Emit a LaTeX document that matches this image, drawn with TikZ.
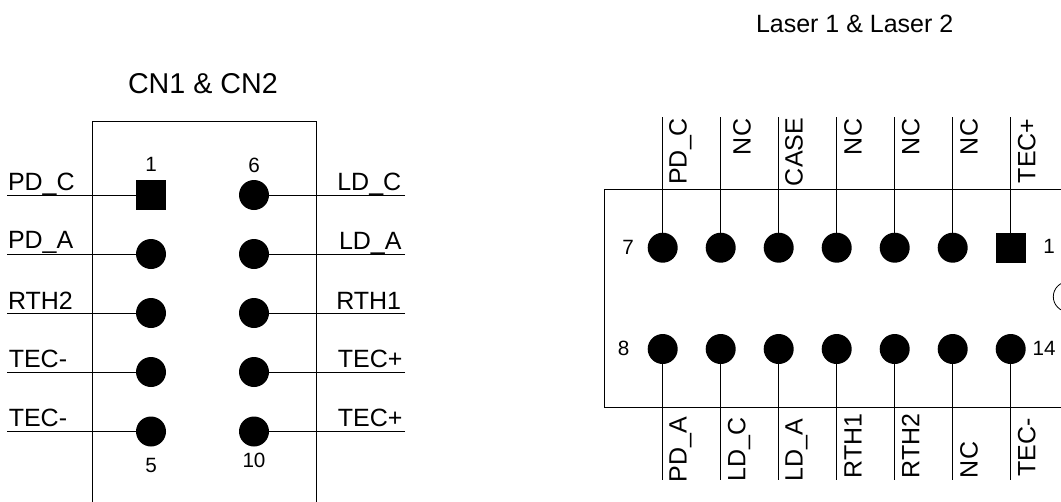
\documentclass[tikz,border=0pt]{standalone}
\usepackage{fontspec}
\setmainfont{Liberation Sans}
\tikzset{
  x=0.75pt,y=-0.75pt,
  wire/.style={draw=black,line width=0.75pt},
  casing/.style={draw=black,line width=0.75pt},
  roundpin/.style={circle,fill=black,draw=none,minimum size=22.5pt,inner sep=0pt,outer sep=0pt},
  squarepin/.style={rectangle,fill=black,draw=none,minimum size=22.5pt,inner sep=0pt,outer sep=0pt},
  sig/.style={font=\fontsize{18.75}{18.75}\selectfont,inner sep=0pt,outer sep=0pt,anchor=base west},
  vsig/.style={sig,rotate=90},
  num/.style={font=\fontsize{15.5}{15.5}\selectfont,inner sep=0pt,outer sep=0pt,anchor=base},
}
\begin{document}
\begin{tikzpicture}
\useasboundingbox (0,0) rectangle (1061,501);
\clip (0,0) rectangle (1061,501);
% titles
\node[sig,font=\fontsize{21.5}{21.5}\selectfont] (t1) at (128,93.7) {CN1 \& CN2};
\node[sig] (t2) at (756,32) {Laser 1 \& Laser 2};
% CN casing
\draw[casing] (92.5,510) -- (92.5,121) -- (316,121) -- (316,510);
% CN pins
\node[squarepin] (c1) at (151,195) {};
\node[roundpin] (c2) at (151,254) {};
\node[roundpin] (c3) at (151,313) {};
\node[roundpin] (c4) at (151,372) {};
\node[roundpin] (c5) at (151,431.5) {};
\node[roundpin] (c6) at (254,195) {};
\node[roundpin] (c7) at (254,254) {};
\node[roundpin] (c8) at (254,313) {};
\node[roundpin] (c9) at (254,372) {};
\node[roundpin] (c10) at (254,431.5) {};
% CN free ends
\foreach \n/\y in {1/195,2/254,3/313,4/372,5/431.5}
  \coordinate (cl\n) at (7,\y);
\foreach \n/\y in {6/195,7/254,8/313,9/372,10/431.5}
  \coordinate (cr\n) at (405,\y);
\foreach \n in {1,2,3,4,5}
  \draw[wire] (cl\n) -- (c\n);
\foreach \n in {6,7,8,9,10}
  \draw[wire] (cr\n) -- (c\n);
% CN labels
\node[sig] (lc1) at (8,190) {PD\_C};
\node[sig] (lc2) at (8,248.5) {PD\_A};
\node[sig] (lc3) at (8,309) {RTH2};
\node[sig] (lc4) at (8.8,367.7) {TEC-};
\node[sig] (lc5) at (8.8,426.7) {TEC-};
\node[sig] (lc6) at (337.3,190) {LD\_C};
\node[sig] (lc7) at (339,249) {LD\_A};
\node[sig] (lc8) at (336.3,309) {RTH1};
\node[sig] (lc9) at (337.8,367.7) {TEC+};
\node[sig] (lc10) at (337.8,426.7) {TEC+};
\node[num] (n1) at (151,171) {1};
\node[num] (n6) at (254,172) {6};
\node[num] (n5) at (151,472.7) {5};
\node[num] (n10) at (254,467) {10};
% Laser casing
\draw[casing] (1075,189.5) -- (604.5,189.5) -- (604.5,407.5) -- (1075,407.5);
\draw[line width=0.6pt] (1068.3,296.7) circle[radius=15];
% Laser pins
\foreach \n/\x in {1/662.7,2/720.7,3/778.7,4/836.7,5/894.7,6/952.7} {
  \node[roundpin] (p\n) at (\x,247.7) {};
  \coordinate (pe\n) at (\x,117);
  \draw[wire] (pe\n) -- (p\n);
}
\node[squarepin] (p7) at (1010.7,247.7) {};
\coordinate (pe7) at (1010.7,117);
\draw[wire] (pe7) -- (p7);
\foreach \n/\x in {1/662.7,2/720.7,3/778.7,4/836.7,5/894.7,6/952.7,7/1010.7} {
  \node[roundpin] (b\n) at (\x,349) {};
  \coordinate (be\n) at (\x,479.5);
  \draw[wire] (be\n) -- (b\n);
}
% Laser labels
\node[vsig] (lt1) at (686.7,184.7) {PD\_C};
\node[vsig] (lt2) at (750.7,155) {NC};
\node[vsig] (lt3) at (802.7,186) {CASE};
\node[vsig] (lt4) at (861.7,155) {NC};
\node[vsig] (lt5) at (919.3,155) {NC};
\node[vsig] (lt6) at (977.7,155) {NC};
\node[vsig] (lt7) at (1035.3,183.2) {TEC+};
\node[vsig] (lb1) at (686.7,482) {PD\_A};
\node[vsig] (lb2) at (745.3,481.3) {LD\_C};
\node[vsig] (lb3) at (802.7,481.3) {LD\_A};
\node[vsig] (lb4) at (861.7,478) {RTH1};
\node[vsig] (lb5) at (919.3,478) {RTH2};
\node[vsig] (lb6) at (977.7,478) {NC};
\node[vsig] (lb7) at (1035.3,476.5) {TEC-};
\node[num] (n7) at (628,254) {7};
\node[num] (n8) at (623.7,355) {8};
\node[num] (n1b) at (1049,253) {1};
\node[num] (n14) at (1044,355) {14};
\end{tikzpicture}
\end{document}
